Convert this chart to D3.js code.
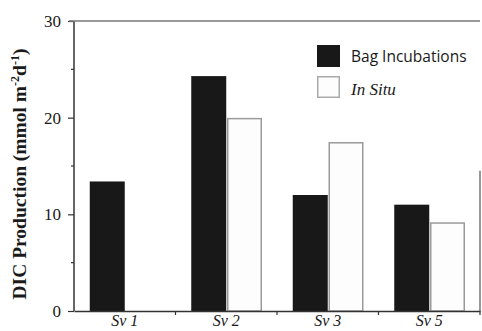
<!DOCTYPE html>
<html>
<head>
<meta charset="utf-8">
<script src="https://cdn.jsdelivr.net/npm/d3@7"></script>
<style>
  body { margin: 0; background: #fff; }
  svg { display: block; }
</style>
</head>
<body>
<div class="chart"></div>
<script>
var sites = ["Sv 1", "Sv 2", "Sv 3", "Sv 5"];
var series = ["Bag Incubations", "In Situ"];
var bagValues = [13.4, 24.3, 12.0, 11.0];
var inSituValues = [null, 19.9, 17.4, 9.1];
var yTicks = [0, 10, 20, 30];
var yMinorTicks = [5, 15, 25];

var margin = { top: 21, right: 2, bottom: 20, left: 74 };
var width = 482 - margin.left - margin.right;
var height = 331 - margin.top - margin.bottom;
var serif = "'Liberation Serif', 'Times New Roman', serif";

var svg = d3
  .select(".chart")
  .append("svg")
  .attr("width", 482)
  .attr("height", 331)
  .append("g")
  .attr("transform", `translate(${margin.left}, ${margin.top})`);

var xScale = d3.scaleBand().domain(sites).range([0, width]).padding(0);
var subScale = d3
  .scaleBand()
  .domain(series)
  .range([0, xScale.bandwidth()])
  .paddingInner(0)
  .paddingOuter(0.45);
var yScale = d3.scaleLinear().domain([0, 30]).range([height, 0]);

var data = sites.map((s, i) => ({ site: s, values: [bagValues[i], inSituValues[i]] }));

// bars
var groups = svg
  .selectAll("g.site")
  .data(data)
  .enter()
  .append("g")
  .attr("class", "site")
  .attr("transform", (d) => `translate(${xScale(d.site)}, 0)`);

groups
  .selectAll("rect")
  .data((d) => d.values.map((v, j) => ({ key: series[j], value: v })).filter((d) => d.value != null))
  .enter()
  .append("rect")
  .attr("x", (d) => subScale(d.key) + (d.key === "In Situ" ? 1.5 : 0))
  .attr("y", (d) => yScale(d.value))
  .attr("width", (d) => subScale.bandwidth() - (d.key === "In Situ" ? 1.5 : 0))
  .attr("height", (d) => height - yScale(d.value))
  .attr("fill", (d) => (d.key === "In Situ" ? "#fdfdfd" : "#181818"))
  .attr("stroke", (d) => (d.key === "In Situ" ? "#9a9a9a" : "none"))
  .attr("stroke-width", 1.5);

// y axis
var yAxis = svg
  .append("g")
  .call(d3.axisLeft(yScale).tickValues(yTicks).tickSize(6).tickPadding(7).tickFormat(d3.format("d")));
yAxis.select(".domain").attr("d", `M0,${height}V0`).attr("stroke", "#333").attr("stroke-width", 1.5);
yAxis.selectAll(".tick line").attr("stroke", "#333").attr("stroke-width", 1.2);
yAxis
  .selectAll(".tick text")
  .attr("font-family", serif)
  .attr("font-size", 17)
  .attr("fill", "#1a1a1a");

svg
  .append("g")
  .selectAll("line")
  .data(yMinorTicks)
  .enter()
  .append("line")
  .attr("x1", -3)
  .attr("x2", 0)
  .attr("y1", (d) => yScale(d))
  .attr("y2", (d) => yScale(d))
  .attr("stroke", "#333")
  .attr("stroke-width", 1.2);

// x axis
var xAxis = svg
  .append("g")
  .attr("transform", `translate(0, ${height})`)
  .call(d3.axisBottom(xScale).tickSize(0).tickPadding(4));
xAxis.select(".domain").attr("stroke", "#333").attr("stroke-width", 1.5);
xAxis
  .selectAll(".tick text")
  .attr("font-family", serif)
  .attr("font-style", "italic")
  .attr("font-size", 16)
  .attr("fill", "#1a1a1a");

svg
  .append("g")
  .selectAll("line")
  .data(sites.slice(1).concat(["end"]))
  .enter()
  .append("line")
  .attr("x1", (d) => (d === "end" ? width : xScale(d)))
  .attr("x2", (d) => (d === "end" ? width : xScale(d)))
  .attr("y1", height)
  .attr("y2", height + 4)
  .attr("stroke", "#333")
  .attr("stroke-width", 1.2);

// frame: top and partial right
svg
  .append("line")
  .attr("x1", -5)
  .attr("x2", width)
  .attr("y1", 0)
  .attr("y2", 0)
  .attr("stroke", "#777")
  .attr("stroke-width", 1.5);
svg
  .append("line")
  .attr("x1", width)
  .attr("x2", width)
  .attr("y1", yScale(14.5))
  .attr("y2", height)
  .attr("stroke", "#555")
  .attr("stroke-width", 1.2);

// y title
svg
  .append("text")
  .attr("transform", `translate(${-48}, ${yScale(15) + 8}) rotate(-90)`)
  .attr("text-anchor", "middle")
  .attr("font-family", serif)
  .attr("font-weight", "bold")
  .attr("font-size", 19.5)
  .attr("fill", "#1a1a1a")
  .call((t) => {
    t.append("tspan").text("DIC Production (mmol m");
    t.append("tspan").attr("dy", -7).attr("font-size", 12).text("-2");
    t.append("tspan").attr("dy", 7).text("d");
    t.append("tspan").attr("dy", -7).attr("font-size", 12).text("-1");
    t.append("tspan").attr("dy", 7).text(")");
  });

// legend
var legend = svg.append("g").attr("transform", `translate(${317 - margin.left}, ${45 - margin.top})`);
legend
  .append("rect")
  .attr("width", 23)
  .attr("height", 22)
  .attr("fill", "#181818");
legend
  .append("rect")
  .attr("x", 0.75)
  .attr("y", 31.75)
  .attr("width", 21.5)
  .attr("height", 20.5)
  .attr("fill", "#fdfdfd")
  .attr("stroke", "#aaa")
  .attr("stroke-width", 1.5);
legend
  .append("text")
  .attr("x", 34)
  .attr("y", 17)
  .attr("font-family", "'Open Sans', sans-serif")
  .attr("font-size", 15.5)
  .attr("fill", "#1a1a1a")
  .text(series[0]);
legend
  .append("text")
  .attr("x", 34)
  .attr("y", 50)
  .attr("font-family", serif)
  .attr("font-style", "italic")
  .attr("font-size", 17)
  .attr("fill", "#1a1a1a")
  .text(series[1]);
</script>
</body>
</html>
